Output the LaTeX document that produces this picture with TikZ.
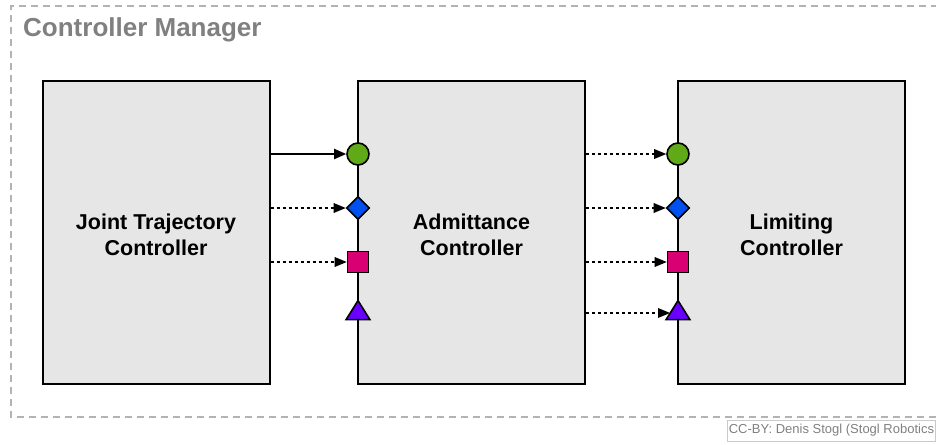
\documentclass[tikz,border=0pt]{standalone}
\usepackage{fontspec}
\setmainfont{Liberation Sans}
\usetikzlibrary{arrows.meta,shapes.geometric}
\definecolor{boxfill}{HTML}{E6E6E6}
\definecolor{mgray}{HTML}{808080}
\definecolor{dgray}{HTML}{B3B3B3}
\definecolor{cgreen}{HTML}{60A917}
\definecolor{cblue}{HTML}{0050EF}
\definecolor{cmag}{HTML}{D80073}
\definecolor{cviol}{HTML}{6A00FF}
\begin{document}
\begin{tikzpicture}[x=1pt,y=-1pt,
  ctrlbox/.style={draw=black,line width=2pt,fill=boxfill,minimum width=227pt,minimum height=303pt,inner sep=0pt},
  boxtext/.style={font=\bfseries\fontsize{21.5}{26}\selectfont,align=center,inner sep=0pt},
  mk/.style={draw=black,line width=1.6pt,inner sep=0pt},
  mcirc/.style={mk,circle,fill=cgreen,minimum size=22pt},
  mdiam/.style={mk,diamond,fill=cblue,minimum size=23pt},
  msq/.style={mk,rectangle,fill=cmag,minimum size=21pt},
  mtri/.style={mk,isosceles triangle,isosceles triangle apex angle=64,shape border rotate=90,fill=cviol,minimum height=19pt,minimum width=22pt},
  solidarrow/.style={line width=2pt,-{Triangle[length=12pt,width=10pt]}},
  dotarrow/.style={line width=2.8pt,dash pattern=on 3pt off 3pt,-{Triangle[length=12pt,width=10pt,line width=0pt]}},
]
\useasboundingbox (0,0) rectangle (936,444);
% outer dashed frame
\draw[dgray,line width=1.8pt,dash pattern=on 7pt off 5pt] (950,6) -- (11,6) -- (11,417) -- (950,417);
\node[anchor=base west,text=mgray,font=\bfseries\fontsize{26}{30}\selectfont,inner sep=0pt] (title) at (23,37) {Controller Manager};

% boxes
\node[ctrlbox] (jtc) at (156,232.5) {};
\node[ctrlbox] (adm) at (471.5,232.5) {};
\node[ctrlbox] (lim) at (791.5,232.5) {};
\node[boxtext] (jtct) at ([yshift=-2pt]jtc.center) {Joint Trajectory\\Controller};
\node[boxtext] (admt) at ([yshift=-2pt]adm.center) {Admittance\\Controller};
\node[boxtext] (limt) at ([yshift=-2pt]lim.center) {Limiting\\Controller};

% interface markers on admittance
\node[mcirc] (a1) at (358,154) {};
\node[mdiam] (a2) at (358,208) {};
\node[msq] (a3) at (358,262) {};
\node[mtri] (a4) at (358,313) {};
% interface markers on limiting
\node[mcirc] (l1) at (678,154) {};
\node[mdiam] (l2) at (678,208) {};
\node[msq] (l3) at (678,262) {};
\node[mtri] (l4) at (678,313) {};

% arrows JTC -> Admittance
\draw[solidarrow] (jtc.east |- a1) -- (a1.west);
\draw[dotarrow] (jtc.east |- a2) -- (a2.west);
\draw[dotarrow] (jtc.east |- a3) -- (a3.west);

% arrows Admittance -> Limiting
\draw[dotarrow] (adm.east |- l1) -- (l1.west);
\draw[dotarrow] (adm.east |- l2) -- (l2.west);
\draw[dotarrow] (adm.east |- l3) -- (l3.west);
\coordinate (l4in) at (670,313);
\draw[dotarrow] (adm.east |- l4in) -- (l4in);

% credit
\node[anchor=west,draw=dgray!70,line width=0.7pt,inner xsep=1.5pt,minimum height=21pt,text=mgray,font=\fontsize{13}{15}\selectfont] (credit) at (727,430.5) {CC-BY: Denis Stogl (Stogl Robotics\hspace{20pt}};
\end{tikzpicture}
\end{document}
